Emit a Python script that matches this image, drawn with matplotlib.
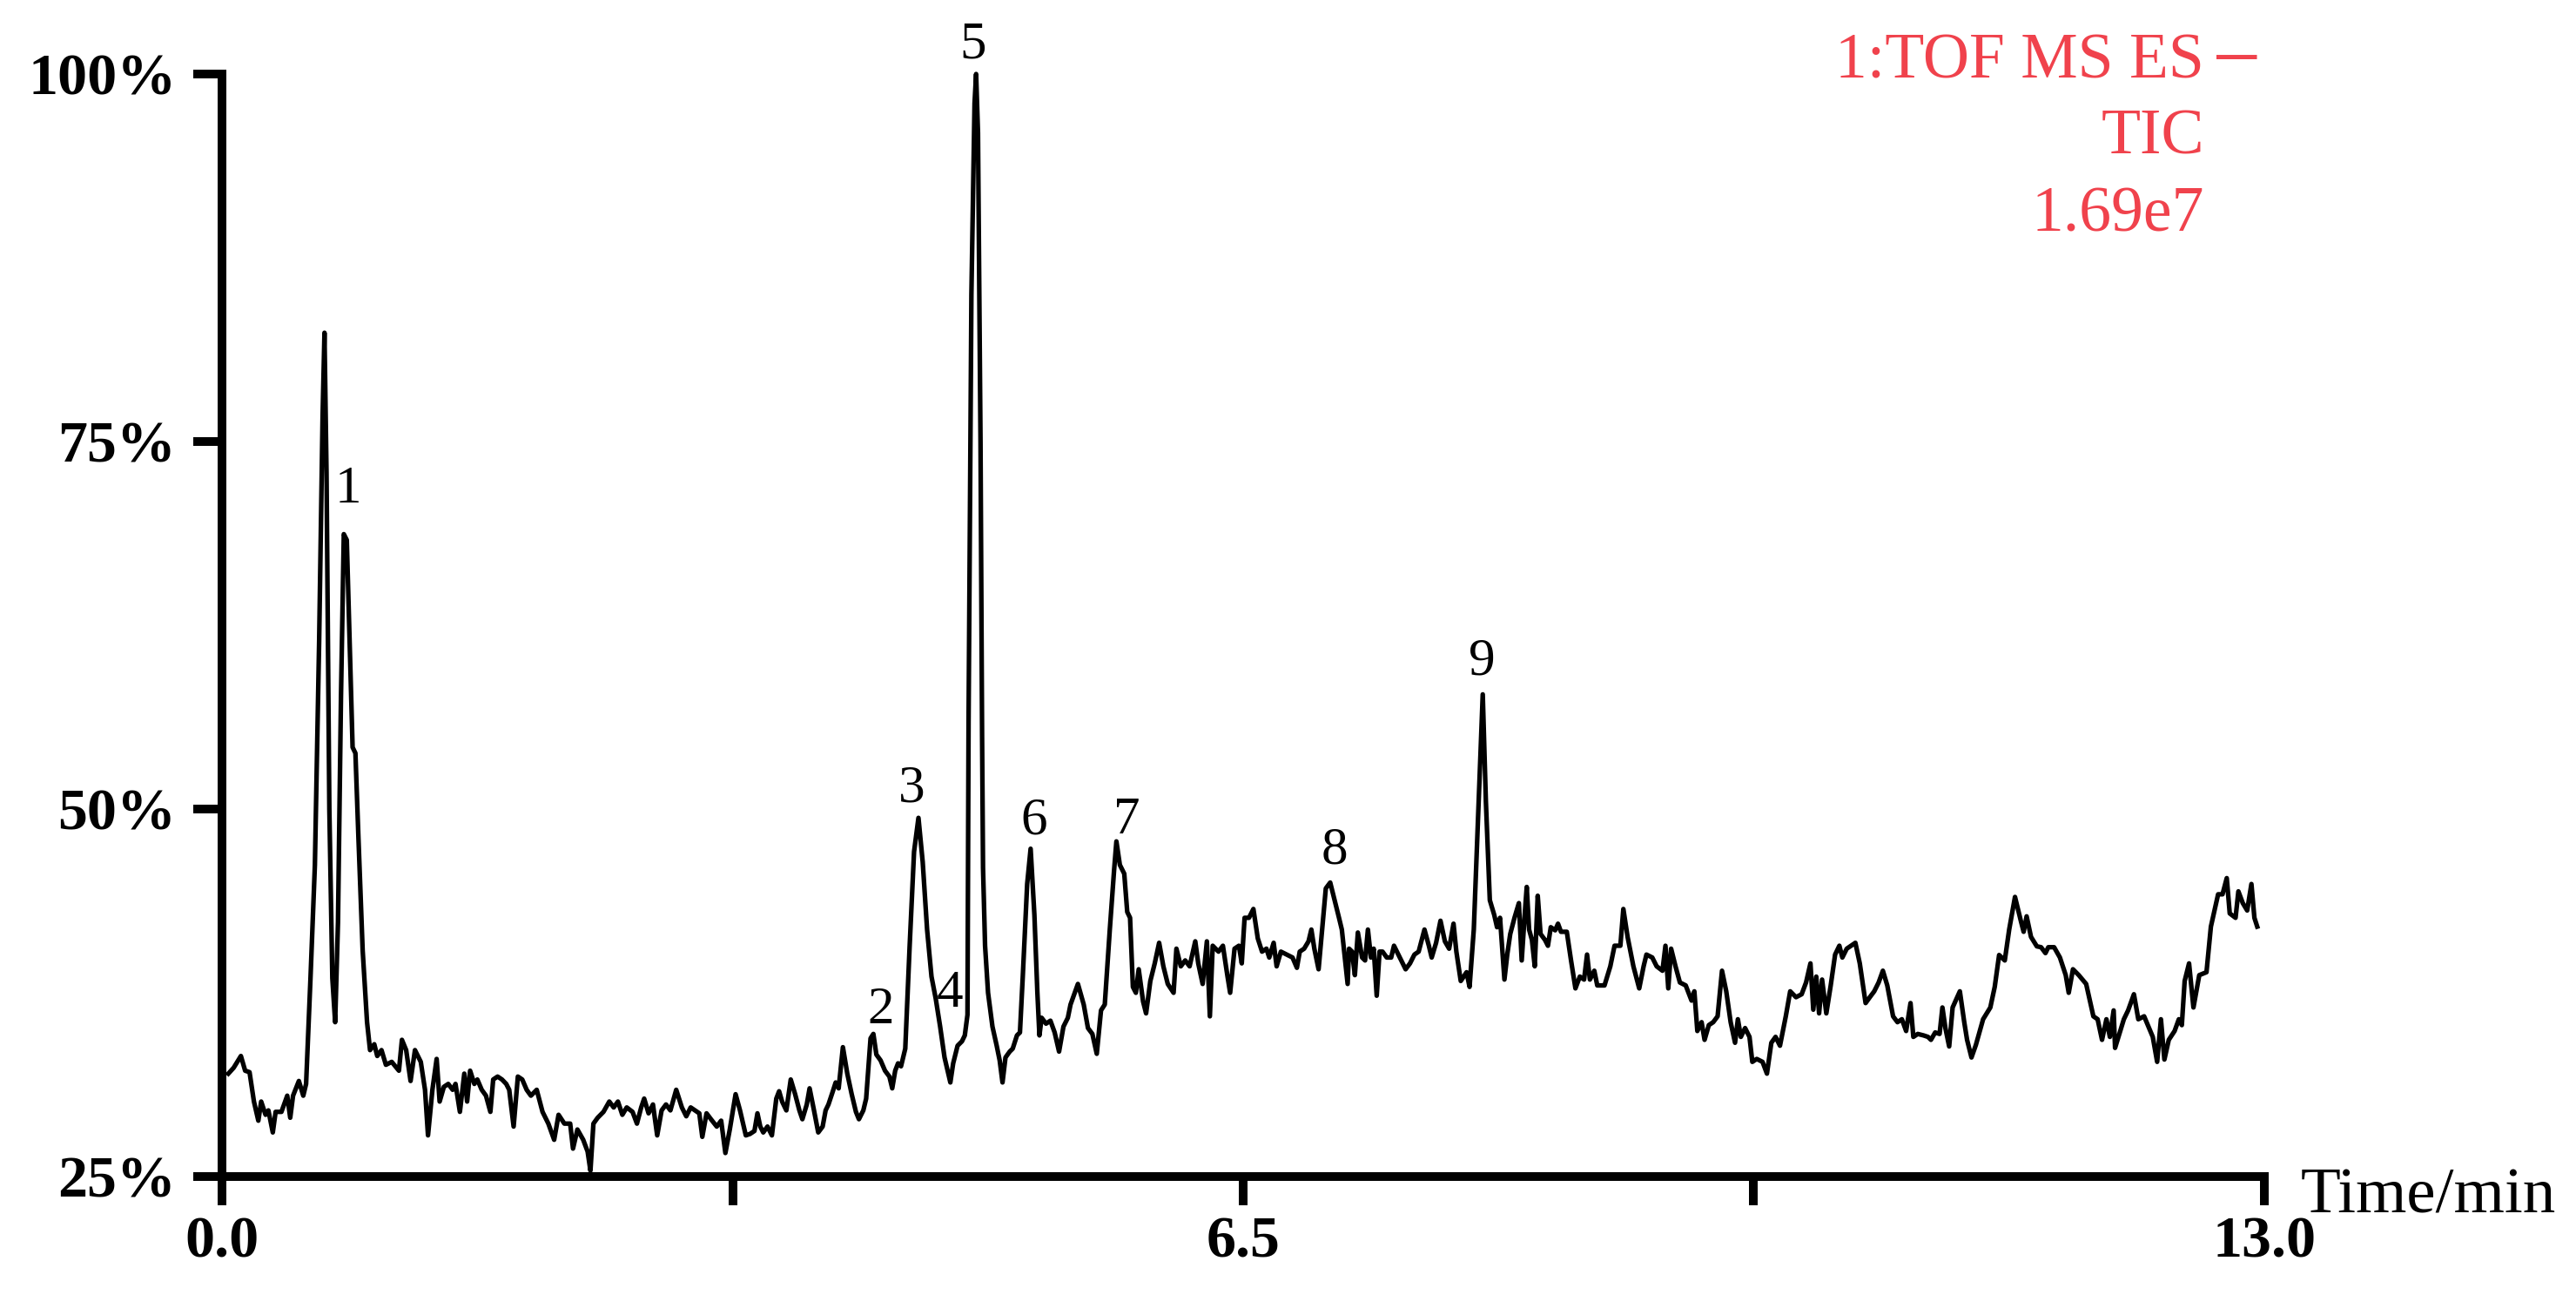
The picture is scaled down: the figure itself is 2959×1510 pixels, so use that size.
import matplotlib
matplotlib.use("Agg")
import matplotlib.pyplot as plt

plt.rcParams['font.family'] = ['Liberation Serif', 'DejaVu Serif']

# ---------------- data (time in min, intensity in %) ----------------
trace_0_to_2_7 = [
    (0.04, 32.0), (0.074, 32.4), (0.12, 33.2), (0.147, 32.2), (0.175, 32.1), (0.203, 30.1),
    (0.231, 28.8), (0.249, 30.1), (0.277, 29.2), (0.295, 29.5), (0.323, 28.0), (0.341, 29.4),
    (0.378, 29.4), (0.415, 30.5), (0.434, 29.0), (0.452, 30.5), (0.489, 31.5), (0.517, 30.5),
    (0.535, 31.3), (0.563, 38.5), (0.591, 46.2), (0.618, 61.4), (0.640, 76.7), (0.652, 82.4),
    (0.665, 72.9), (0.683, 50.0), (0.702, 38.5), (0.720, 35.5), (0.738, 42.3), (0.757, 57.6),
    (0.775, 68.7), (0.794, 68.3), (0.812, 61.4), (0.831, 54.2), (0.849, 53.8), (0.868, 48.1),
    (0.895, 40.4), (0.923, 35.5), (0.942, 33.6), (0.969, 34.0), (0.988, 33.2), (1.015, 33.6),
    (1.043, 32.6), (1.080, 32.8), (1.126, 32.2), (1.145, 34.3), (1.172, 33.6), (1.200, 31.5),
    (1.228, 33.6), (1.265, 32.8), (1.292, 30.9), (1.311, 27.8), (1.339, 30.9), (1.366, 33.0),
    (1.385, 30.1), (1.412, 31.1), (1.440, 31.3), (1.468, 30.9), (1.486, 31.3), (1.514, 29.4),
    (1.542, 32.0), (1.560, 30.1), (1.579, 32.2), (1.606, 31.3), (1.625, 31.6), (1.653, 30.9),
    (1.680, 30.5), (1.708, 29.4), (1.726, 31.6), (1.754, 31.8), (1.782, 31.6), (1.809, 31.3),
    (1.828, 30.9), (1.856, 28.4), (1.883, 31.8), (1.911, 31.6), (1.939, 30.9), (1.966, 30.5),
    (2.003, 30.9), (2.040, 29.4), (2.077, 28.6), (2.114, 27.5), (2.142, 29.2), (2.179, 28.6),
    (2.216, 28.6), (2.234, 26.9), (2.262, 28.2), (2.299, 27.5), (2.327, 26.7), (2.345, 25.4),
    (2.364, 28.6), (2.391, 29.0), (2.428, 29.4), (2.465, 30.1), (2.493, 29.7), (2.520, 30.1),
    (2.548, 29.2), (2.576, 29.7), (2.613, 29.4), (2.641, 28.6), (2.668, 29.7),
]

trace_2_7_to_5_4 = [
    (2.687, 30.3), (2.715, 29.3), (2.743, 29.9), (2.770, 27.8), (2.798, 29.5), (2.826, 29.9),
    (2.854, 29.5), (2.891, 30.9), (2.927, 29.7), (2.955, 29.1), (2.983, 29.7), (3.011, 29.5),
    (3.038, 29.3), (3.057, 27.7), (3.084, 29.3), (3.112, 28.9), (3.149, 28.4), (3.177, 28.8),
    (3.204, 26.6), (3.232, 28.2), (3.269, 30.6), (3.297, 29.5), (3.334, 27.8), (3.361, 27.9),
    (3.389, 28.1), (3.408, 29.3), (3.426, 28.4), (3.445, 28.0), (3.472, 28.4), (3.500, 27.8),
    (3.528, 30.3), (3.546, 30.8), (3.565, 30.1), (3.592, 29.5), (3.620, 31.6), (3.648, 30.6),
    (3.675, 29.5), (3.694, 28.9), (3.722, 29.9), (3.740, 31.0), (3.768, 29.5), (3.795, 28.0),
    (3.823, 28.4), (3.842, 29.5), (3.860, 29.9), (3.888, 30.8), (3.906, 31.4), (3.925, 31.0),
    (3.952, 33.8), (3.980, 32.0), (4.008, 30.6), (4.035, 29.4), (4.054, 28.9), (4.082, 29.5),
    (4.100, 30.3), (4.128, 34.4), (4.146, 34.7), (4.165, 33.3), (4.192, 32.9), (4.220, 32.2),
    (4.248, 31.8), (4.266, 31.0), (4.285, 32.2), (4.303, 32.7), (4.322, 32.5), (4.349, 33.7),
    (4.377, 40.7), (4.405, 47.1), (4.433, 49.4), (4.460, 46.4), (4.488, 41.8), (4.516, 38.6),
    (4.543, 37.1), (4.571, 35.2), (4.599, 33.1), (4.636, 31.4), (4.654, 32.7), (4.682, 33.9),
    (4.710, 34.2), (4.728, 34.6), (4.745, 36.0), (4.752, 56.0), (4.770, 85.0), (4.790, 98.0),
    (4.800, 100.0), (4.812, 96.0), (4.828, 75.0), (4.838, 55.0), (4.844, 46.0), (4.857, 40.7),
    (4.876, 37.5), (4.904, 35.2), (4.931, 33.9), (4.950, 32.9), (4.968, 31.4), (4.987, 33.1),
    (5.014, 33.5), (5.033, 33.7), (5.060, 34.6), (5.079, 34.8), (5.097, 38.6), (5.125, 44.9),
    (5.147, 47.3), (5.171, 42.8), (5.190, 37.5), (5.203, 34.6), (5.217, 35.8), (5.245, 35.4),
    (5.273, 35.6), (5.300, 34.8), (5.328, 33.5), (5.356, 35.2), (5.384, 35.8),
]

trace_5_4_to_8_1 = [
    (5.401, 36.7), (5.448, 38.1), (5.485, 36.7), (5.512, 35.1), (5.540, 34.7), (5.568, 33.35),
    (5.595, 36.3), (5.619, 36.7), (5.651, 41.8), (5.678, 45.8), (5.693, 47.8), (5.715, 46.2),
    (5.743, 45.6), (5.762, 43.0), (5.780, 42.6), (5.798, 37.9), (5.817, 37.5), (5.835, 39.1),
    (5.863, 36.9), (5.882, 36.1), (5.909, 38.3), (5.937, 39.5), (5.965, 40.9), (5.992, 39.3),
    (6.020, 38.1), (6.057, 37.5), (6.075, 40.5), (6.103, 39.3), (6.131, 39.7), (6.159, 39.3),
    (6.195, 41.0), (6.214, 39.5), (6.242, 38.1), (6.269, 41.0), (6.288, 35.9), (6.306, 40.7),
    (6.343, 40.3), (6.371, 40.7), (6.399, 38.7), (6.417, 37.5), (6.445, 40.5), (6.473, 40.7),
    (6.491, 39.5), (6.509, 42.6), (6.537, 42.6), (6.565, 43.2), (6.593, 41.2), (6.620, 40.3),
    (6.648, 40.5), (6.666, 39.9), (6.694, 40.9), (6.713, 39.3), (6.740, 40.3), (6.777, 40.1),
    (6.814, 39.9), (6.842, 39.2), (6.860, 40.3), (6.888, 40.5), (6.916, 41.0), (6.934, 41.8),
    (6.953, 40.5), (6.980, 39.1), (6.999, 41.4), (7.026, 44.6), (7.054, 45.0), (7.082, 43.8),
    (7.110, 42.6), (7.128, 41.8), (7.147, 39.9), (7.165, 38.1), (7.174, 40.5), (7.193, 40.3),
    (7.211, 38.7), (7.230, 41.6), (7.257, 39.9), (7.276, 39.7), (7.294, 41.8), (7.313, 39.9),
    (7.331, 40.5), (7.350, 37.3), (7.368, 40.3), (7.387, 40.3), (7.414, 39.9), (7.442, 39.9),
    (7.460, 40.7), (7.488, 40.1), (7.516, 39.5), (7.534, 39.1), (7.562, 39.5), (7.590, 40.1),
    (7.617, 40.3), (7.654, 41.8), (7.682, 40.7), (7.700, 39.9), (7.728, 40.9), (7.756, 42.4),
    (7.784, 41.0), (7.811, 40.5), (7.839, 42.2), (7.857, 40.3), (7.885, 38.3), (7.922, 38.9),
    (7.941, 37.9), (7.968, 41.8), (7.996, 49.7), (8.025, 57.8), (8.045, 50.5), (8.070, 43.8),
    (8.098, 42.8),
]

trace_8_1_to_10_8 = [
    (8.116, 41.96), (8.135, 42.6), (8.163, 38.4), (8.181, 40.1), (8.200, 41.5), (8.227, 42.6),
    (8.255, 43.6), (8.273, 39.7), (8.292, 42.8), (8.305, 44.7), (8.320, 41.8), (8.338, 41.1),
    (8.356, 39.3), (8.375, 44.1), (8.393, 41.5), (8.421, 41.1), (8.440, 40.7), (8.458, 41.96),
    (8.486, 41.75), (8.504, 42.2), (8.523, 41.65), (8.560, 41.65), (8.587, 39.7), (8.615, 37.8),
    (8.643, 38.6), (8.670, 38.4), (8.689, 40.1), (8.707, 38.4), (8.735, 39.0), (8.754, 38.0),
    (8.800, 38.0), (8.837, 39.3), (8.864, 40.7), (8.901, 40.7), (8.920, 43.2), (8.947, 41.3),
    (8.984, 39.3), (9.021, 37.8), (9.049, 39.3), (9.067, 40.1), (9.104, 39.9), (9.132, 39.3),
    (9.169, 39.0), (9.188, 40.7), (9.206, 37.8), (9.224, 40.5), (9.252, 39.3), (9.280, 38.2),
    (9.317, 38.0), (9.354, 36.97), (9.372, 37.6), (9.391, 34.9), (9.418, 35.5), (9.437, 34.3),
    (9.464, 35.3), (9.492, 35.5), (9.520, 35.9), (9.548, 39.0), (9.575, 37.6), (9.603, 35.5),
    (9.631, 34.1), (9.649, 35.7), (9.668, 34.5), (9.695, 35.1), (9.723, 34.5), (9.741, 32.8),
    (9.769, 33.0), (9.806, 32.8), (9.834, 32.0), (9.862, 34.1), (9.889, 34.5), (9.917, 33.9),
    (9.954, 35.9), (9.982, 37.6), (10.019, 37.2), (10.055, 37.4), (10.083, 38.2), (10.111, 39.5),
    (10.129, 36.35), (10.148, 38.6), (10.166, 36.1), (10.185, 38.4), (10.212, 36.1), (10.240, 38.0),
    (10.268, 40.1), (10.295, 40.7), (10.314, 39.9), (10.342, 40.5), (10.397, 40.9), (10.425, 39.5),
    (10.462, 36.8), (10.489, 37.2), (10.517, 37.6), (10.545, 38.2), (10.572, 39.0), (10.600, 38.0),
    (10.637, 35.9), (10.665, 35.5), (10.693, 35.7), (10.720, 34.9), (10.748, 36.8), (10.766, 34.5),
    (10.794, 34.7), (10.831, 34.6),
]

trace_10_8_to_13 = [
    (10.859, 34.5), (10.878, 34.3), (10.905, 34.8), (10.933, 34.7), (10.951, 36.5), (10.970, 35.1),
    (10.994, 33.85), (11.016, 36.5), (11.062, 37.6), (11.090, 35.5), (11.108, 34.3), (11.136, 33.1),
    (11.164, 33.95), (11.210, 35.7), (11.256, 36.5), (11.284, 37.9), (11.312, 40.07), (11.348, 39.7),
    (11.376, 41.8), (11.413, 44.02), (11.450, 42.4), (11.468, 41.65), (11.487, 42.7), (11.515, 41.3),
    (11.552, 40.66), (11.579, 40.6), (11.607, 40.2), (11.625, 40.6), (11.662, 40.6), (11.699, 39.9),
    (11.736, 38.7), (11.755, 37.5), (11.782, 39.1), (11.819, 38.7), (11.866, 38.1), (11.912, 35.9),
    (11.939, 35.7), (11.967, 34.3), (11.995, 35.7), (12.017, 34.5), (12.041, 36.3), (12.050, 33.75),
    (12.106, 35.7), (12.133, 36.3), (12.170, 37.4), (12.198, 35.7), (12.235, 35.9), (12.290, 34.5),
    (12.318, 32.8), (12.342, 35.7), (12.364, 32.96), (12.392, 34.3), (12.429, 34.9), (12.456, 35.7),
    (12.475, 35.3), (12.493, 38.3), (12.521, 39.5), (12.549, 36.5), (12.586, 38.7), (12.632, 38.9),
    (12.660, 42.0), (12.706, 44.2), (12.734, 44.2), (12.761, 45.3), (12.780, 42.9), (12.817, 42.6),
    (12.835, 44.4), (12.863, 43.6), (12.891, 43.1), (12.918, 44.9), (12.937, 42.6), (12.955, 42.0),
]

peak_ids = ["1", "2", "3", "4", "5", "6", "7", "8", "9"]
peak_label_time = [0.805, 4.19, 4.39, 4.63, 4.78, 5.17, 5.76, 7.08, 8.02]
peak_label_pct = [71.7, 36.3, 51.4, 37.4, 102.0, 49.2, 49.2, 47.2, 60.0]

x_major_ticks = [0.0, 6.5, 13.0]
x_major_labels = ["0.0", "6.5", "13.0"]
x_minor_ticks = [3.25, 9.75]
y_ticks = [25, 50, 75, 100]
y_tick_labels = ["25%", "50%", "75%", "100%"]

header_lines = ["1:TOF MS ES", "TIC", "1.69e7"]
x_axis_title = "Time/min"

# ---------------- figure ----------------
RED = "#f0424c"
fig = plt.figure(figsize=(29.59, 15.10), dpi=100)
ax = fig.add_axes([0.0862, 0.1053, 0.879 - 0.0862, 0.9437 - 0.1053])

segments = [trace_0_to_2_7, trace_2_7_to_5_4, trace_5_4_to_8_1,
            trace_8_1_to_10_8, trace_10_8_to_13]
times = [pt[0] for seg in segments for pt in seg]
values = [pt[1] for seg in segments for pt in seg]
ax.plot(times, values, color="black", lw=3.8, clip_on=False, solid_joinstyle="round")

ax.set_xlim(0, 13)
ax.set_ylim(25, 100)

for side in ("top", "right"):
    ax.spines[side].set_visible(False)
for side in ("left", "bottom"):
    ax.spines[side].set_linewidth(7.2)
    ax.spines[side].set_capstyle("projecting")

ax.set_xticks(x_major_ticks)
ax.set_xticklabels(x_major_labels)
ax.set_xticks(x_minor_ticks, minor=True)
ax.set_yticks(y_ticks)
ax.set_yticklabels(y_tick_labels)
ax.tick_params(axis="both", which="both", direction="out", length=24, width=7.2,
               labelsize=49, color="black")
ax.tick_params(axis="x", which="major", pad=9)
ax.tick_params(axis="y", which="major", pad=14)
for lab in ax.get_xticklabels() + ax.get_yticklabels():
    lab.set_fontweight("bold")

for pid, pt, pp in zip(peak_ids, peak_label_time, peak_label_pct):
    ax.text(pt, pp, pid, ha="center", va="center", fontsize=44, color="black",
            clip_on=False)

# header (instrument info) in red
fig.text(0.8557, 0.9404, header_lines[0], ha="right", va="baseline",
         fontsize=53, color=RED)
fig.text(0.8585, 0.9505, "\u2212", ha="left", va="center", fontsize=72, color=RED)
fig.text(0.8557, 0.8828, header_lines[1], ha="right", va="baseline",
         fontsize=53, color=RED)
fig.text(0.8557, 0.8245, header_lines[2], ha="right", va="baseline",
         fontsize=53, color=RED)

fig.text(0.893, 0.0775, x_axis_title, ha="left", va="baseline", fontsize=54,
         color="black")

fig.savefig("out.png", dpi=100, facecolor="white")
